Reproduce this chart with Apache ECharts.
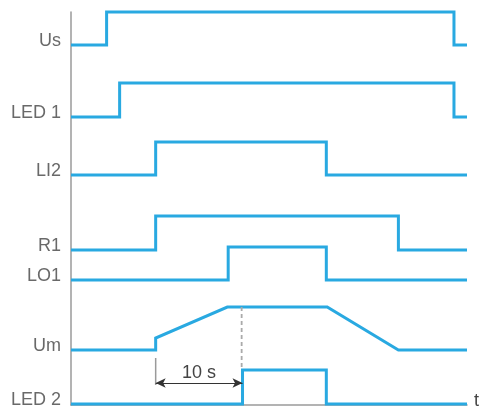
<!DOCTYPE html>
<html><head><meta charset="utf-8">
<script src="https://cdn.jsdelivr.net/npm/echarts@6/dist/echarts.min.js"></script>
<style>html,body{margin:0;padding:0;background:#fff}#c{width:481px;height:407px}</style>
</head><body><div id="c"></div>
<script>
// ---- data (time in s, level in arbitrary track units) ----
const signalNames = ['Us', 'LED 1', 'LI2', 'R1', 'LO1', 'Um', 'LED 2'];
const baselines   = [360, 288, 230, 155, 125, 55, 1];
const pulseHeight = [33, 34, 33, 34, 33, 0, 34];
const riseTimes   = [4.1, 5.6, 9.75, 9.75, 18.1, null, 19.75];
const fallTimes   = [44.1, 44.1, 29.4, 37.7, 29.4, null, 29.4];
const umTimes     = [0, 9.75, 9.75, 18.0, 29.5, 37.7, 45.6];
const umLevels    = [55, 55, 67, 98, 98, 55, 55];
const tEnd        = 45.6;
const rampStart   = 9.75;
const rampSpan    = 10;   // "10 s"
const arrowLevel  = 22;
const tickLevels  = [20, 47];
const dashLevels  = [38, 98];

const BLUE = '#29a9e1', TEXT = '#444', GRAY = '#9a9a9a';
const FONT = 'Liberation Sans, Arial, sans-serif';

function stepData(i) {
  if (signalNames[i] === 'Um') return umTimes.map((t, k) => [t, umLevels[k]]);
  const b = baselines[i], h = b + pulseHeight[i];
  return [[0, b], [riseTimes[i], b], [riseTimes[i], h], [fallTimes[i], h], [fallTimes[i], b], [tEnd, b]];
}

const series = signalNames.map((n, i) => ({
  name: n, type: 'line', data: stepData(i), showSymbol: false, clip: false,
  lineStyle: { color: BLUE, width: 3, join: 'miter', cap: 'butt' }, animation: false, silent: true
}));

series.push({
  type: 'scatter', symbolSize: 0, animation: false, silent: true,
  data: baselines.map((b, i) => ({ value: [0, b], label: { formatter: signalNames[i] } })),
  label: { show: true, position: 'left', distance: 10, offset: [0, -4], fontSize: 18, color: TEXT, fontFamily: FONT }
});

series.push({
  type: 'line', data: tickLevels.map(v => [rampStart, v]), showSymbol: false, clip: false, animation: false,
  lineStyle: { color: GRAY, width: 1.5 }, silent: true
});
series.push({
  type: 'line', data: dashLevels.map(v => [rampStart + rampSpan - 0.1, v]), showSymbol: false, clip: false, animation: false,
  lineStyle: { color: '#aaa', width: 1.8, type: [4, 3] }, silent: true
});
series.push({
  type: 'line', data: [], animation: false, silent: true,
  markLine: {
    silent: true, animation: false, symbol: ['arrow', 'arrow'], symbolSize: [7, 10],
    lineStyle: { color: '#333', width: 1.2, type: 'solid' },
    label: { show: true, position: 'middle', formatter: rampSpan + ' s', fontSize: 18, color: TEXT, fontFamily: FONT, distance: 1 },
    data: [[{ coord: [rampStart, arrowLevel] }, { coord: [rampStart + rampSpan, arrowLevel] }]]
  }
});

const chart = echarts.init(document.getElementById('c'), null, { renderer: 'canvas' });
chart.setOption({
  backgroundColor: '#fff',
  animation: false,
  grid: { left: 71, right: 14, top: 12, bottom: 2, containLabel: false, outerBoundsMode: 'none' },
  xAxis: {
    type: 'value', min: 0, max: tEnd,
    axisLine: { show: true, lineStyle: { color: GRAY, width: 1.5 } },
    axisTick: { show: false }, axisLabel: { show: false }, splitLine: { show: false },
    name: 't', nameLocation: 'end', nameGap: 7,
    nameTextStyle: { fontSize: 18, color: TEXT, fontFamily: FONT, verticalAlign: 'bottom', lineHeight: 8 }
  },
  yAxis: {
    type: 'value', min: 0, max: 393,
    axisLine: { show: true, lineStyle: { color: GRAY, width: 1.5 } },
    axisTick: { show: false }, axisLabel: { show: false }, splitLine: { show: false }
  },
  series: series
});
</script></body></html>
